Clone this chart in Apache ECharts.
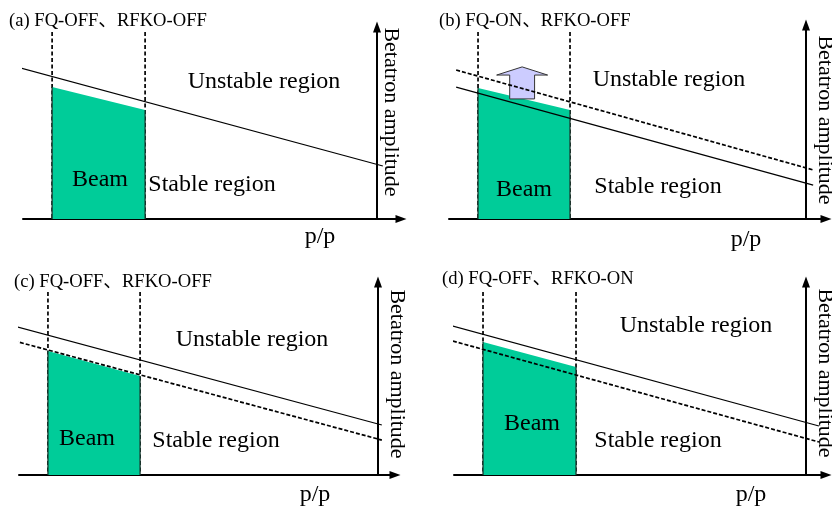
<!DOCTYPE html>
<html>
<head>
<meta charset="utf-8">
<script src="https://cdn.jsdelivr.net/npm/echarts@6/dist/echarts.min.js"></script>
<style>html,body{margin:0;padding:0;background:#fff}#c{width:832px;height:509px}</style>
</head>
<body>
<div id="c"></div>
<script>
// ---- data (axis units: p/p 0..100 along the momentum axis, amplitude 0..100 up the y axis) ----
const panelTitles = ['(a) FQ-OFF、RFKO-OFF', '(b) FQ-ON、RFKO-OFF', '(c) FQ-OFF、RFKO-OFF', '(d) FQ-OFF、RFKO-ON'];

// beam momentum edges (dashed verticals) and their top
const edgesA = [7.7, 32.3];  const edgeTopA = 97.4;
const edgesB = [7.7, 32.1];  const edgeTopB = 96.4;
const edgesC = [7.7, 32.2];  const edgeTopC = 94.8;
const edgesD = [7.8, 32.8];  const edgeTopD = 94.8;

// beam top amplitude at left / right edge
const beamTopA = [68.8, 56.8];
const beamTopB = [67.5, 56.2];
const beamTopC = [64.2, 51.3];
const beamTopD = [68.9, 56.0];

// stability limit lines: [x start, x end], [y start, y end]
const solidXA = [-0.5, 95.2];  const solidYA = [78.6, 27.6];
const dashXB  = [1.9, 96.6];   const dashYB  = [76.8, 25.3];
const solidXB = [1.9, 96.6];   const solidYB = [68.0, 17.5];
const solidXC = [-1.3, 96.5];  const solidYC = [77.2, 25.9];
const dashXC  = [-1.3, 96.5];  const dashYC  = [69.5, 18.1];
const solidXD = [-0.3, 98.1];  const solidYD = [77.2, 25.4];
const dashXD  = [-0.3, 98.1];  const dashYD  = [69.4, 17.1];

// upward arrow in (b): [x centre, y tip, y head base, y bottom, head half-width, shaft half-width]
const arrowB = [19.4, 78.4, 74.2, 61.9, 6.76, 3.3];

// ---- styling / layout ----
const SERIF = "'Liberation Serif','Times New Roman','Noto Sans CJK SC',serif";
const grids = [
  {left: 23,  width: 378, top: 27,  height: 192, yOff: -24},
  {left: 449, width: 377, top: 25,  height: 194, yOff: -20},
  {left: 19,  width: 376, top: 282, height: 193, yOff: -17},
  {left: 454, width: 372, top: 282, height: 193, yOff: -20}
];

const chart = echarts.init(document.getElementById('c'), null, {renderer: 'canvas'});

const axisLine = {show: true, onZero: false, symbol: ['none', 'triangle'], symbolSize: [8, 11],
  lineStyle: {color: '#000', width: 2}};

const gridOpt = grids.map(g => ({left: g.left, width: g.width, top: g.top, height: g.height,
  containLabel: false, outerBoundsMode: 'none'}));
const xAxes = grids.map((g, i) => ({type: 'value', gridIndex: i, min: 0, max: 100, position: 'bottom',
  axisLine, axisTick: {show: false}, axisLabel: {show: false}, splitLine: {show: false}}));
const yAxes = grids.map((g, i) => ({type: 'value', gridIndex: i, min: 0, max: 100, position: 'right', offset: g.yOff,
  axisLine, axisTick: {show: false}, axisLabel: {show: false}, splitLine: {show: false}}));

function lineSeries(i, xs, ys, dashed) {
  return {type: 'line', xAxisIndex: i, yAxisIndex: i, symbol: 'none', clip: false, silent: true, z: 5,
    data: [[xs[0], ys[0]], [xs[1], ys[1]]],
    lineStyle: {color: '#000', width: dashed ? 1.7 : 1.2, type: dashed ? [4, 2] : 'solid'}};
}
function edgeSeries(i, edges, top) {
  return edges.map(x => ({type: 'line', xAxisIndex: i, yAxisIndex: i, symbol: 'none', silent: true, z: 2,
    data: [[x, top], [x, 0]], lineStyle: {color: '#000', width: 1.7, type: [4, 2.5]}}));
}
function beamSeries(i, edges, tops) {
  return {type: 'custom', xAxisIndex: i, yAxisIndex: i, silent: true, z: 3,
    data: [[edges[0], edges[1], tops[0], tops[1]]],
    encode: {x: [0, 1], y: [2, 3]},
    renderItem: function (params, api) {
      const x0 = api.value(0), x1 = api.value(1), yl = api.value(2), yr = api.value(3);
      const p0 = api.coord([x0, 0]), p1 = api.coord([x0, yl]), p2 = api.coord([x1, yr]), p3 = api.coord([x1, 0]);
      return {type: 'group', children: [
        {type: 'polygon', shape: {points: [p0, p1, p2, p3]}, style: {fill: '#00CC99'}},
        {type: 'line', shape: {x1: p0[0], y1: p0[1], x2: p1[0], y2: p1[1]}, style: {stroke: '#1a3a30', lineWidth: 1.3}},
        {type: 'line', shape: {x1: p3[0], y1: p3[1], x2: p2[0], y2: p2[1]}, style: {stroke: '#1a3a30', lineWidth: 1.3}}
      ]};
    }};
}
function arrowSeries(i, a) {
  return {type: 'custom', xAxisIndex: i, yAxisIndex: i, silent: true, z: 4,
    data: [a],
    renderItem: function (params, api) {
      const xc = api.value(0), yt = api.value(1), yb = api.value(2), ybot = api.value(3), hw = api.value(4), sw = api.value(5);
      const pts = [[xc, yt], [xc + hw, yb], [xc + sw, yb], [xc + sw, ybot], [xc - sw, ybot], [xc - sw, yb], [xc - hw, yb]]
        .map(p => api.coord(p));
      return {type: 'polygon', shape: {points: pts}, style: {fill: '#CCCCFF', stroke: '#333', lineWidth: 1}};
    }};
}

const series = [].concat(
  edgeSeries(0, edgesA, edgeTopA), beamSeries(0, edgesA, beamTopA), lineSeries(0, solidXA, solidYA, false),
  edgeSeries(1, edgesB, edgeTopB), beamSeries(1, edgesB, beamTopB), arrowSeries(1, arrowB),
  lineSeries(1, dashXB, dashYB, true), lineSeries(1, solidXB, solidYB, false),
  edgeSeries(2, edgesC, edgeTopC), beamSeries(2, edgesC, beamTopC),
  lineSeries(2, solidXC, solidYC, false), lineSeries(2, dashXC, dashYC, true),
  edgeSeries(3, edgesD, edgeTopD), beamSeries(3, edgesD, beamTopD),
  lineSeries(3, solidXD, solidYD, false), lineSeries(3, dashXD, dashYD, true)
);

const titlePos = [[9, 12], [439, 12], [14, 273], [442, 270]];
const titles = panelTitles.map((t, i) => ({text: t, left: titlePos[i][0], top: titlePos[i][1], padding: 0,
  textStyle: {fontFamily: SERIF, fontSize: 18.6, fontWeight: 'normal', color: '#000'}}));

function txt(text, x, y, size, rot) {
  return {type: 'text', x, y, rotation: rot || 0, silent: true, z: 10,
    style: {text, fill: '#000', fontFamily: SERIF, fontSize: size, align: 'center', verticalAlign: 'middle'}};
}
const R = -Math.PI / 2;
const graphic = [
  txt('Unstable region', 264, 82, 24), txt('Beam', 100, 180, 24), txt('Stable region', 212, 185, 24),
  txt('p/p', 320, 237, 24), txt('Betatron amplitude', 391, 112, 22, R),
  txt('Unstable region', 669, 80, 24), txt('Beam', 524, 190, 24), txt('Stable region', 658, 187, 24),
  txt('p/p', 746, 240, 24), txt('Betatron amplitude', 825, 120, 22, R),
  txt('Unstable region', 252, 340, 24), txt('Beam', 87, 439, 24), txt('Stable region', 216, 441, 24),
  txt('p/p', 315, 495, 24), txt('Betatron amplitude', 397, 374, 22, R),
  txt('Unstable region', 696, 326, 24), txt('Beam', 532, 424, 24), txt('Stable region', 658, 441, 24),
  txt('p/p', 751, 495, 24), txt('Betatron amplitude', 825, 373, 22, R)
];

chart.setOption({
  animation: false,
  backgroundColor: '#fff',
  title: titles,
  grid: gridOpt,
  xAxis: xAxes,
  yAxis: yAxes,
  series,
  graphic
});
</script>
</body>
</html>
